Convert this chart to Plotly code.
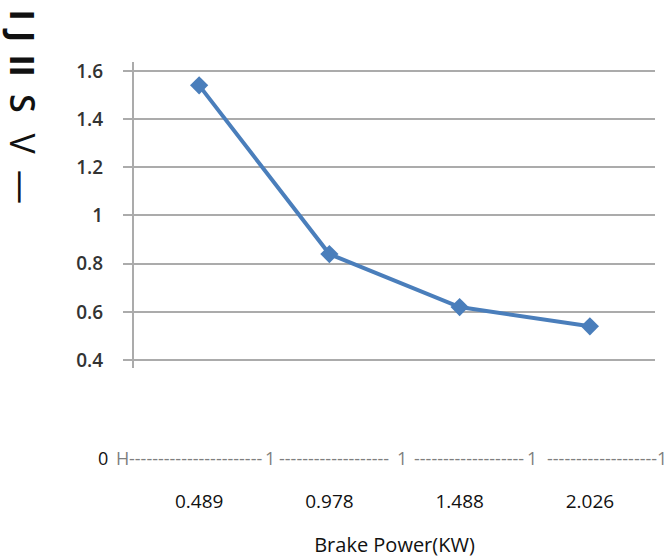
import plotly.graph_objects as go

# Brake power settings (categorical x) and measured values
brake_power = ["0.489", "0.978", "1.488", "2.026"]
values = [1.54, 0.84, 0.62, 0.54]
y_ticks = [0.4, 0.6, 0.8, 1.0, 1.2, 1.4, 1.6]
y_tick_text = ["0.4", "0.6", "0.8", "1", "1.2", "1.4", "1.6"]

FONT = "Open Sans"
GRID = "#ababab"
ROW_GRAY = "#7f7f7f"

# plot-area geometry in pixels
L, R, T, B = 134, 13, 62, 190
W, H = 668 - L - R, 558 - T - B


def xp(px):
    return (px - L) / W


def yp(py):
    return (558 - B - py) / H


fig = go.Figure()
fig.add_trace(go.Scatter(
    x=brake_power, y=values, mode="lines+markers",
    line=dict(color="#4a7ebb", width=4),
    marker=dict(symbol="diamond", size=14, color="#4a7ebb"),
    showlegend=False, cliponaxis=False,
))

fig.update_layout(
    width=668, height=558,
    margin=dict(l=L, r=R, t=T, b=B, autoexpand=False),
    paper_bgcolor="white", plot_bgcolor="white",
    font=dict(family=FONT, color="#222222"),
    xaxis=dict(
        type="category", range=[-0.5, 3.5], automargin=False,
        showgrid=False, zeroline=False, showline=False, ticks="",
        tickfont=dict(size=19, color="#111111", family=FONT),
        ticklabelstandoff=120,
        title=dict(text="Brake Power(KW)", font=dict(size=20, color="#111111", family=FONT), standoff=24),
    ),
    yaxis=dict(
        range=[0.367, 1.637], automargin=False,
        tickvals=y_ticks, ticktext=y_tick_text,
        showgrid=True, gridcolor=GRID, gridwidth=2,
        zeroline=False, showline=True, linecolor=GRID, linewidth=2,
        ticks="outside", ticklen=9, tickcolor=GRID, tickwidth=2,
        tickfont=dict(size=19, color="#333333", family=FONT, weight=600),
        ticklabelstandoff=16,
    ),
)

# Rotated side label along the top-left edge, one glyph at a time
side_glyphs = [("I", 14.5, 700), ("J", 35, 700), ("I", 59.5, 700), ("I", 70.5, 700),
               ("S", 103, 600), ("V", 143.5, 500), ("\u2014", 187, 400)]
for ch, cy, wt in side_glyphs:
    fig.add_annotation(
        xref="paper", yref="paper", x=xp(23), y=yp(cy),
        xanchor="center", yanchor="middle", showarrow=False,
        text=ch, textangle=90,
        font=dict(size=34, color="#111111", family=FONT, weight=wt),
    )

# Text row beneath the plot: "0 H----1---- 1 ---- 1 ----1"
ROW_Y = 458
fig.add_annotation(xref="paper", yref="paper", x=xp(103), y=yp(ROW_Y), text="0",
                   showarrow=False, xanchor="center", yanchor="middle",
                   font=dict(size=18, color="#111111", family=FONT))
row_items = [
    (114, "left", "H"),
    (127, "left", "-" * 23),
    (270, "center", "1"),
    (277, "left", "-" * 19),
    (402, "center", "1"),
    (412, "left", "-" * 19),
    (532, "center", "1"),
    (545, "left", "-" * 19),
    (662, "center", "1"),
]
for px, anchor, txt in row_items:
    fig.add_annotation(xref="paper", yref="paper", x=xp(px), y=yp(ROW_Y), text=txt,
                       showarrow=False, xanchor=anchor, yanchor="middle",
                       font=dict(size=18, color=ROW_GRAY, family=FONT))

fig.write_html("out.html")
